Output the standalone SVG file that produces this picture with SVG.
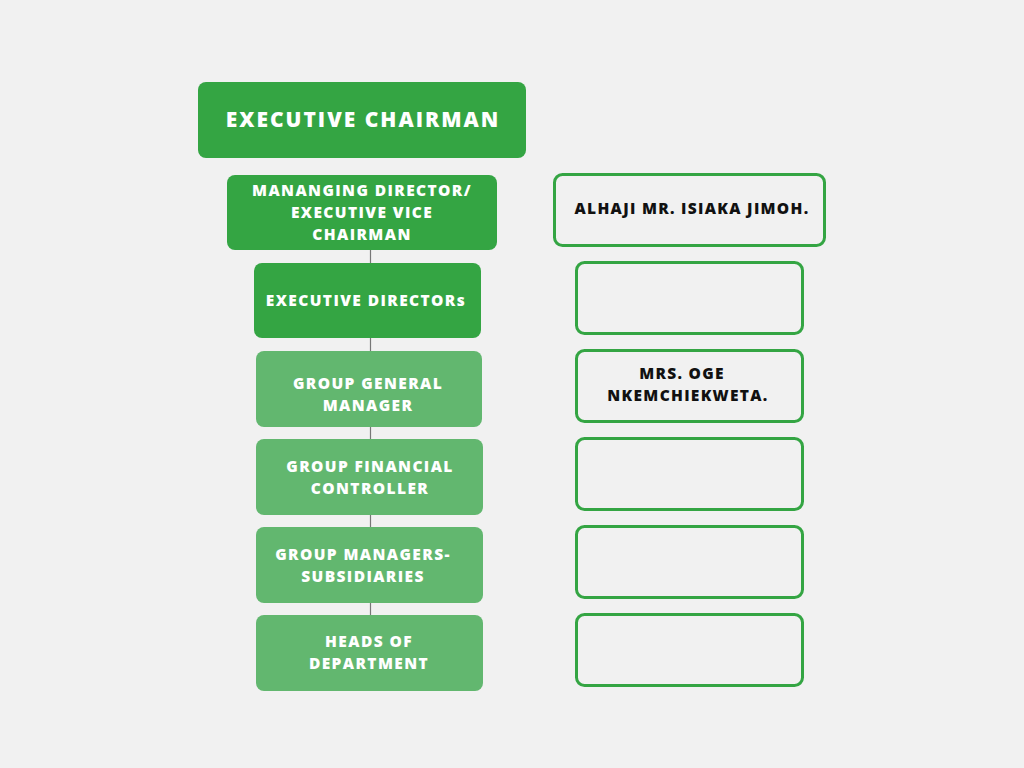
<svg xmlns="http://www.w3.org/2000/svg" width="1024" height="768" viewBox="0 0 1024 768">
<style>
.dk{fill:#34a543}
.lt{fill:#62b76f}
.ob{fill:none;stroke:#34a543;stroke-width:3}
text{font-family:"Open Sans","DejaVu Sans",sans-serif;font-weight:800;text-anchor:middle}
.w{fill:#ffffff;font-size:15.5px;letter-spacing:1.4px}
.b{fill:#111111;font-size:15.5px;letter-spacing:1.3px}
.big{font-size:21px;letter-spacing:2px}
</style>
<rect width="1024" height="768" fill="#f1f1f1"/>
<g id="connectors">
<line x1="370.5" y1="250" x2="370.5" y2="615" stroke="#777" stroke-width="1.2"/>
</g>
<g id="n-chairman"><rect class="dk" x="198" y="82" width="328" height="76" rx="8"/><text class="w big" x="363" y="127">EXECUTIVE CHAIRMAN</text></g>
<g id="n-md"><rect class="dk" x="227" y="175" width="270" height="75" rx="8"/><text class="w" x="362" y="196">MANANGING DIRECTOR/</text><text class="w" x="362" y="218">EXECUTIVE VICE</text><text class="w" x="362" y="240">CHAIRMAN</text></g>
<g id="n-ed"><rect class="dk" x="254" y="263" width="227" height="75" rx="8"/><text class="w" x="366" y="306">EXECUTIVE DIRECTORs</text></g>
<g id="n-ggm"><rect class="lt" x="256" y="351" width="226" height="76" rx="8"/><text class="w" x="368" y="389">GROUP GENERAL</text><text class="w" x="368" y="411">MANAGER</text></g>
<g id="n-gfc"><rect class="lt" x="256" y="439" width="227" height="76" rx="8"/><text class="w" x="370" y="472">GROUP FINANCIAL</text><text class="w" x="370" y="494">CONTROLLER</text></g>
<g id="n-gms"><rect class="lt" x="256" y="527" width="227" height="76" rx="8"/><text class="w" x="363" y="560">GROUP MANAGERS-</text><text class="w" x="363" y="582">SUBSIDIARIES</text></g>
<g id="n-hod"><rect class="lt" x="256" y="615" width="227" height="76" rx="8"/><text class="w" x="369" y="647">HEADS OF</text><text class="w" x="369" y="669">DEPARTMENT</text></g>
<g id="r1"><rect class="ob" x="554.5" y="174.5" width="270" height="71" rx="8"/><text class="b" x="692" y="214">ALHAJI MR. ISIAKA JIMOH.</text></g>
<g id="r2"><rect class="ob" x="576.5" y="262.5" width="226" height="71" rx="8"/></g>
<g id="r3"><rect class="ob" x="576.5" y="350.5" width="226" height="71" rx="8"/><text class="b" x="682" y="379">MRS. OGE</text><text class="b" x="688" y="401">NKEMCHIEKWETA.</text></g>
<g id="r4"><rect class="ob" x="576.5" y="438.5" width="226" height="71" rx="8"/></g>
<g id="r5"><rect class="ob" x="576.5" y="526.5" width="226" height="71" rx="8"/></g>
<g id="r6"><rect class="ob" x="576.5" y="614.5" width="226" height="71" rx="8"/></g>
</svg>
